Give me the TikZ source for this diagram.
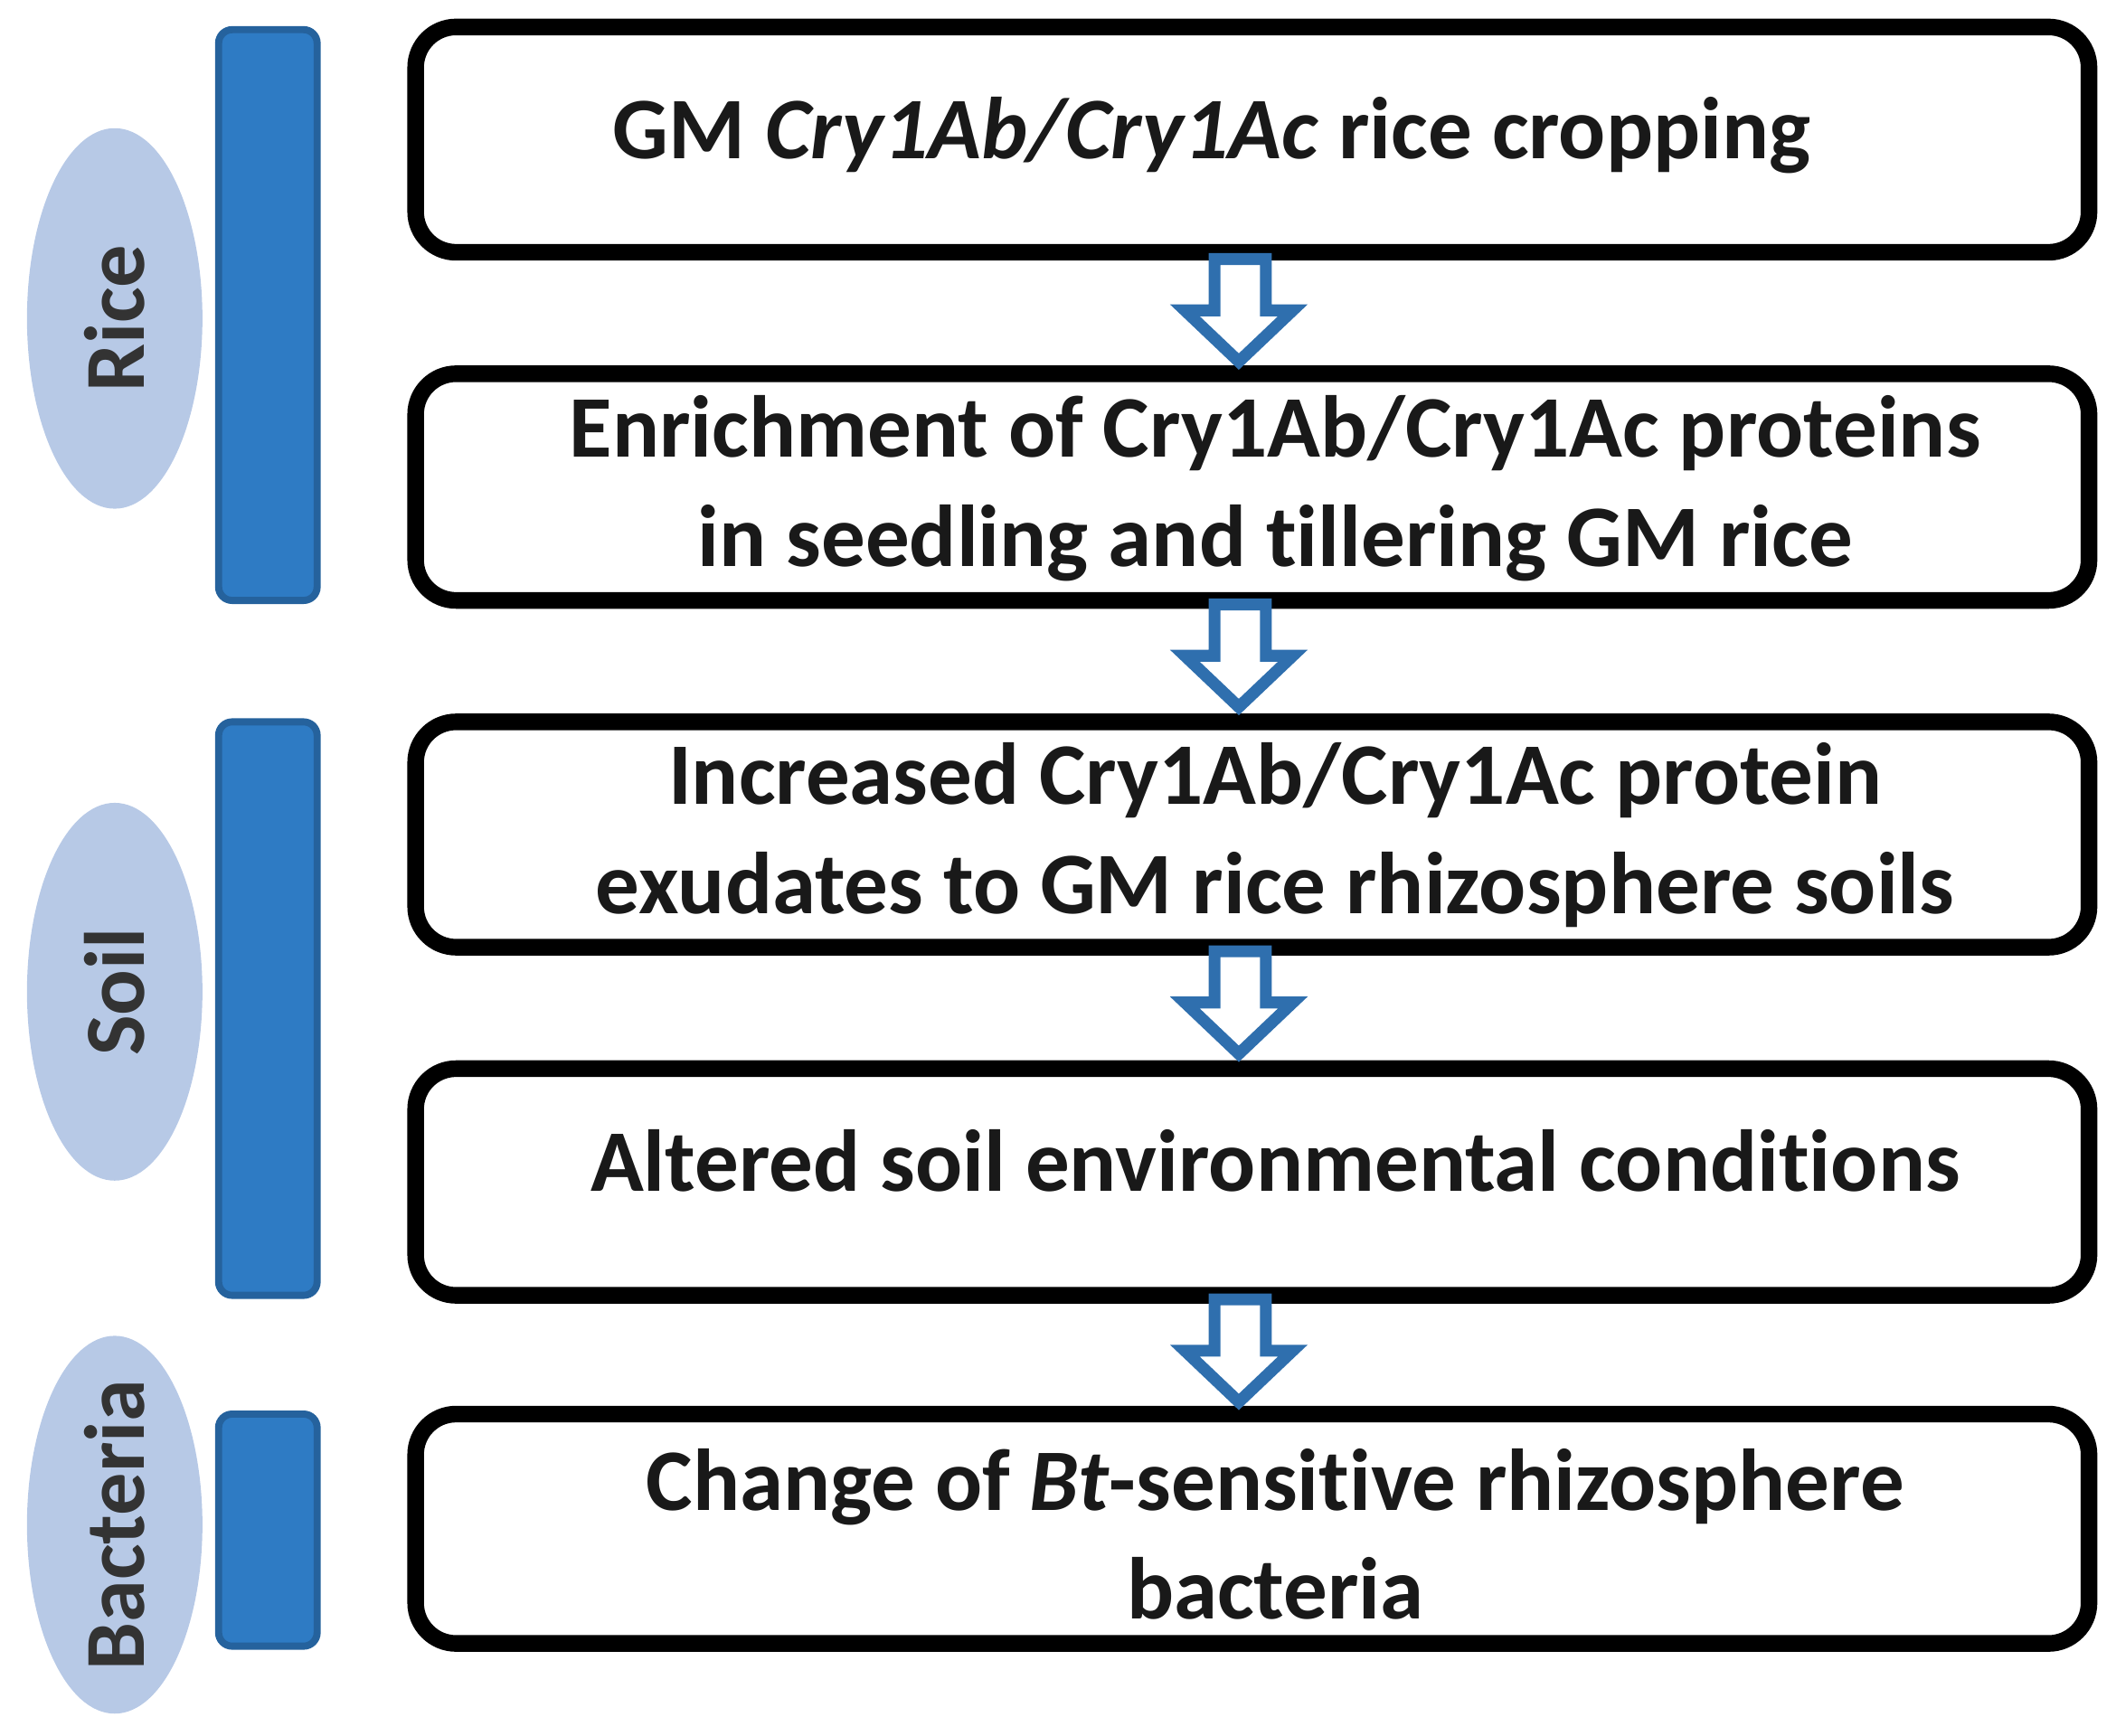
\documentclass[tikz,border=0pt]{standalone}
\usepackage{fontspec}
\setmainfont[Ligatures={NoCommon}]{Carlito}
\begin{document}
\begin{tikzpicture}[x=0.01cm,y=-0.01cm,
 box/.style={align=center,font=\fontsize{18.5}{23}\selectfont\bfseries,inner sep=0pt,text=black!90},
 frame/.style={line width=3.5pt,rounded corners=0.3cm},
 bar/.style={fill=barblue,draw=barblue!80!black,line width=1.5pt,rounded corners=0.1cm},
 lab/.style={rotate=90,font=\fontsize{18}{20}\selectfont\bfseries,text=black!80},
 harrow/.style={draw=arrblue,line width=2.5pt,fill=white,line join=miter}]
\definecolor{barblue}{HTML}{2E7BC4}
\definecolor{ellblue}{HTML}{B7C9E6}
\definecolor{arrblue}{HTML}{2F6FAE}
\useasboundingbox (0,0) rectangle (1568,1286);
% bars
\draw[bar] (162,22) rectangle (235,445);
\draw[bar] (162,535) rectangle (235,960);
\draw[bar] (162,1048) rectangle (235,1220);
% ellipses
\fill[ellblue] (85,236) ellipse (65 and 141);
\fill[ellblue] (85,735) ellipse (65 and 140);
\fill[ellblue] (85,1130) ellipse (65 and 140);
\node[lab] (l1) at (85,236) {Rice};
\node[lab] (l2) at (85,735) {Soil};
\node[lab] (l3) at (85,1130) {Bacteria};
% boxes
\draw[frame] (308,20) rectangle (1548,187);
\draw[frame] (308,277) rectangle (1548,445);
\draw[frame] (308,535) rectangle (1548,702);
\draw[frame] (308,792) rectangle (1548,960);
\draw[frame] (308,1048) rectangle (1548,1218);
\node[box] (b1) at (898,100) {GM \textit{Cry1Ab/Cry1Ac} rice cropping};
\node[box] (b2) at (945,362) {Enrichment of Cry1Ab/Cry1Ac proteins\\in seedling and tillering GM rice};
\node[box] (b3) at (945,619) {Increased Cry1Ab/Cry1Ac protein\\exudates to GM rice rhizosphere soils};
\node[box] (b4) at (945,860) {Altered soil environmental conditions};
\node[box] (b5) at (945,1137) {Change of \textit{Bt}-sensitive rhizosphere\\bacteria};
% hollow arrows
\foreach \t in {192,448,705,963}{
 \draw[harrow] (900,\t) -- (938,\t) -- (938,\t+38) -- (958,\t+38) -- (918,\t+76) -- (878,\t+38) -- (900,\t+38) -- cycle;
}
\end{tikzpicture}
\end{document}
